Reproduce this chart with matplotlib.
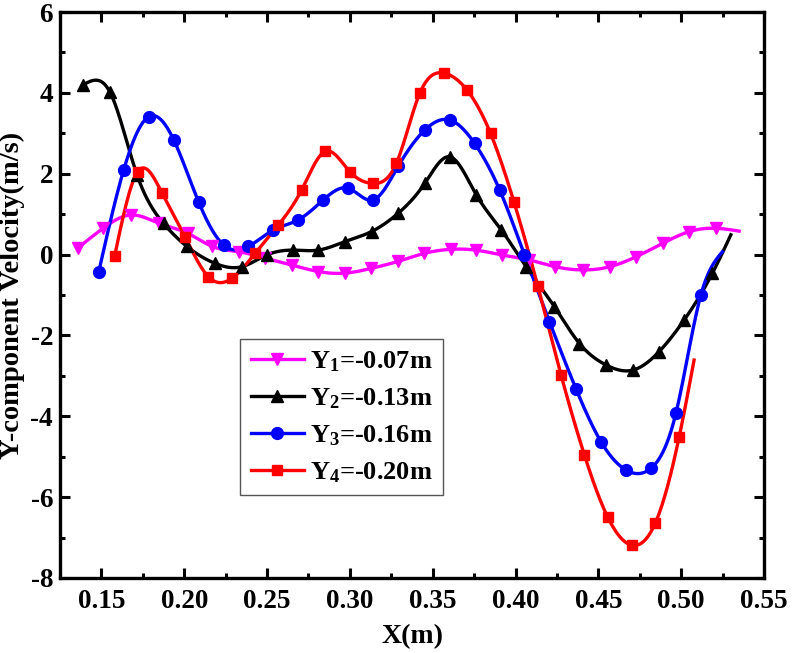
import numpy as np
import matplotlib
matplotlib.use("Agg")
import matplotlib.pyplot as plt
from matplotlib.ticker import MultipleLocator

plt.rcParams['font.family'] = ['Liberation Serif', 'DejaVu Serif']
plt.rcParams['font.weight'] = 'bold'
plt.rcParams['axes.unicode_minus'] = False
plt.rcParams['mathtext.fontset'] = 'custom'
plt.rcParams['mathtext.rm'] = 'Liberation Serif:bold'
plt.rcParams['mathtext.it'] = 'Liberation Serif:bold'
plt.rcParams['mathtext.bf'] = 'Liberation Serif:bold'

# ---- data ----
x1 = [0.136, 0.151, 0.168, 0.185, 0.202, 0.217, 0.233, 0.249, 0.265, 0.281, 0.297, 0.313, 0.329,
      0.345, 0.361, 0.376, 0.392, 0.408, 0.424, 0.441, 0.457, 0.473, 0.489, 0.505, 0.521, 0.535]
y1 = [0.17, 0.65, 0.98, 0.77, 0.53, 0.20, 0.07, -0.09, -0.26, -0.42, -0.46, -0.34, -0.17,
      0.03, 0.13, 0.11, -0.01, -0.13, -0.30, -0.38, -0.30, -0.05, 0.28, 0.57, 0.65, 0.58]

x2 = [0.139, 0.155, 0.1715, 0.1875, 0.2016, 0.2187, 0.2348, 0.2498, 0.2659, 0.2809, 0.297, 0.3131,
      0.3291, 0.3452, 0.3602, 0.3763, 0.3914, 0.4064, 0.4235, 0.4386, 0.4546, 0.4707, 0.4867,
      0.5018, 0.5189, 0.530]
y2 = [4.20, 4.03, 1.97, 0.77, 0.20, -0.22, -0.30, -0.01, 0.11, 0.11, 0.32, 0.57,
      1.02, 1.76, 2.42, 1.48, 0.61, -0.30, -1.29, -2.20, -2.73, -2.86, -2.40,
      -1.62, -0.46, 0.49]

x3 = [0.1484, 0.1634, 0.1785, 0.1936, 0.2086, 0.2237, 0.2387, 0.2538, 0.2689, 0.2839, 0.299, 0.314,
      0.3291, 0.3452, 0.3602, 0.3753, 0.3904, 0.4054, 0.4205, 0.4366, 0.4516, 0.4667, 0.4817,
      0.4968, 0.5119, 0.5249]
y3 = [-0.42, 2.09, 3.41, 2.84, 1.31, 0.24, 0.20, 0.61, 0.86, 1.35, 1.64, 1.35,
      2.18, 3.08, 3.33, 2.75, 1.60, -0.01, -1.66, -3.33, -4.63, -5.33, -5.29,
      -3.93, -1.00, 0.07]

x4 = [0.158, 0.1719, 0.1866, 0.2006, 0.2146, 0.2287, 0.2428, 0.2568, 0.2709, 0.2849, 0.300, 0.314,
      0.3281, 0.3422, 0.3567, 0.3709, 0.3849, 0.399, 0.4134, 0.4275, 0.4416, 0.4556, 0.4703,
      0.4843, 0.4988, 0.5078]
y4 = [-0.03, 2.05, 1.52, 0.43, -0.55, -0.59, 0.03, 0.73, 1.60, 2.55, 2.05, 1.76,
      2.26, 3.99, 4.49, 4.06, 3.00, 1.31, -0.77, -2.98, -4.96, -6.49, -7.19,
      -6.65, -4.51, -2.61]

labels = ['Y$_{1}$=-0.07m', 'Y$_{2}$=-0.13m', 'Y$_{3}$=-0.16m', 'Y$_{4}$=-0.20m']
colors = ['#FF00FF', '#000000', '#0000FF', '#FF0000']
markers = ['v', '^', 'o', 's']
msizes = [8.5, 8.5, 8.5, 7.5]


def natural_spline(x, y, n=25):
    x = np.asarray(x, float)
    y = np.asarray(y, float)
    N = len(x)
    h = np.diff(x)
    A = np.zeros((N, N))
    b = np.zeros(N)
    A[0, 0] = 1
    A[-1, -1] = 1
    for i in range(1, N - 1):
        A[i, i - 1] = h[i - 1]
        A[i, i] = 2 * (h[i - 1] + h[i])
        A[i, i + 1] = h[i]
        b[i] = 6 * ((y[i + 1] - y[i]) / h[i] - (y[i] - y[i - 1]) / h[i - 1])
    M = np.linalg.solve(A, b)
    xs, ys = [], []
    for i in range(N - 1):
        t = np.linspace(x[i], x[i + 1], n, endpoint=(i == N - 2))
        a = x[i + 1] - t
        c = t - x[i]
        s = (M[i] * a**3 + M[i + 1] * c**3) / (6 * h[i]) \
            + (y[i] / h[i] - M[i] * h[i] / 6) * a \
            + (y[i + 1] / h[i] - M[i + 1] * h[i] / 6) * c
        xs.append(t)
        ys.append(s)
    return np.concatenate(xs), np.concatenate(ys)


fig = plt.figure(figsize=(7.93, 6.53), dpi=100)
ax = fig.add_axes([0.0757, 0.1149, 0.8877, 0.8667])

series = [(x1, y1), (x2, y2), (x3, y3), (x4, y4)]
handles = []
for (xx, yy), lab, col, mk, ms in zip(series, labels, colors, markers, msizes):
    sx, sy = natural_spline(xx, yy)
    ax.plot(sx, sy, color=col, lw=2.4, zorder=3)
    ax.plot(xx[:-1], yy[:-1], ls='none', marker=mk, color=col, ms=ms, zorder=4)
    h, = ax.plot([], [], color=col, lw=2.4, marker=mk, ms=ms)
    handles.append(h)

ax.set_xlim(0.125, 0.55)
ax.set_ylim(-8, 6)
ax.xaxis.set_minor_locator(MultipleLocator(0.025))
ax.yaxis.set_major_locator(MultipleLocator(2))
ax.yaxis.set_minor_locator(MultipleLocator(1))
xt = np.arange(0.15, 0.551, 0.05)
ax.set_xticks(xt)
ax.set_xticklabels(['%.2f' % v for v in xt])

ax.tick_params(which='both', direction='in', top=True, right=True, width=2.2,
               labelsize=19.5)
ax.tick_params(axis='x', pad=8)
ax.tick_params(axis='y', pad=5)
ax.tick_params(which='major', length=7)
ax.tick_params(which='minor', length=3.5)
for lbl in ax.get_xticklabels() + ax.get_yticklabels():
    lbl.set_fontweight('bold')
for sp in ax.spines.values():
    sp.set_linewidth(2.4)

ax.set_xlabel('X(m)', fontsize=20, fontweight='bold', labelpad=7)
ax.set_ylabel('Y-component Velocity(m/s)', fontsize=20.5, fontweight='bold')
ax.yaxis.set_label_coords(-0.05, 0.5)

leg = ax.legend(handles, labels, loc='upper left', bbox_to_anchor=(0.256, 0.422),
                fontsize=19, frameon=True, fancybox=False, framealpha=1,
                edgecolor='#555555', handlelength=2.0, handletextpad=0.25,
                borderpad=0.4, labelspacing=0.46, borderaxespad=0)
leg.get_frame().set_linewidth(1.0)

fig.savefig('out.png', dpi=100)
